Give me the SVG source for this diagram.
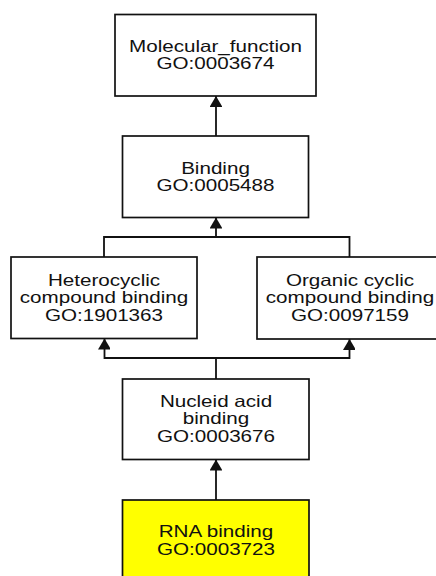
<svg xmlns="http://www.w3.org/2000/svg" width="436" height="576" viewBox="0 0 436 576">
  <style>
    .box { fill: #ffffff; stroke: #111111; stroke-width: 1.7; }
    .hl { fill: #ffff00; }
    .lbl { font-family: "Liberation Sans", Arial, sans-serif; font-size: 16.5px; fill: #111111; text-anchor: middle; }
    .edge { fill: none; stroke: #111111; stroke-width: 1.8; }
  </style>
  <defs>
    <marker id="arrow" markerUnits="userSpaceOnUse" markerWidth="14" markerHeight="12" refX="11" refY="6.5" orient="auto">
      <path d="M0,0 L11,6.5 L0,13 Z" fill="#111111"/>
    </marker>
  </defs>

  <rect width="436" height="576" fill="#ffffff"/>

  <!-- connectors (child points up to parent) -->
  <g id="connectors">
    <path class="edge" d="M216,136 V96" marker-end="url(#arrow)"/>
    <path class="edge" d="M104,257 V237 H216 V217.5" marker-end="url(#arrow)"/>
    <path class="edge" d="M349.5,257 V237 H216"/>
    <path class="edge" d="M216,379 V358 H104.5 V338.5" marker-end="url(#arrow)"/>
    <path class="edge" d="M216,358 H349.5 V339" marker-end="url(#arrow)"/>
    <path class="edge" d="M216,500 V459.5" marker-end="url(#arrow)"/>
  </g>

  <g id="molecular_function">
    <rect class="box" x="115" y="14.5" width="201" height="81.5"/>
    <g transform="translate(215.5,0) scale(1.25,1)">
      <text class="lbl" x="0" y="52">Molecular_function</text>
      <text class="lbl" x="0" y="69.5">GO:0003674</text>
    </g>
  </g>

  <g id="binding">
    <rect class="box" x="122.5" y="136" width="186" height="81.5"/>
    <g transform="translate(215.5,0) scale(1.25,1)">
      <text class="lbl" x="0" y="174">Binding</text>
      <text class="lbl" x="0" y="191.5">GO:0005488</text>
    </g>
  </g>

  <g id="heterocyclic_compound_binding">
    <rect class="box" x="11" y="257" width="186" height="81.5"/>
    <g transform="translate(104,0) scale(1.25,1)">
      <text class="lbl" x="0" y="286">Heterocyclic</text>
      <text class="lbl" x="0" y="303.5">compound binding</text>
      <text class="lbl" x="0" y="321">GO:1901363</text>
    </g>
  </g>

  <g id="organic_cyclic_compound_binding">
    <rect class="box" x="257" y="257" width="186" height="82"/>
    <g transform="translate(350,0) scale(1.25,1)">
      <text class="lbl" x="0" y="286">Organic cyclic</text>
      <text class="lbl" x="0" y="303.5">compound binding</text>
      <text class="lbl" x="0" y="321">GO:0097159</text>
    </g>
  </g>

  <g id="nucleic_acid_binding">
    <rect class="box" x="122.5" y="379" width="186.5" height="80.5"/>
    <g transform="translate(216,0) scale(1.25,1)">
      <text class="lbl" x="0" y="407">Nucleid acid</text>
      <text class="lbl" x="0" y="424.5">binding</text>
      <text class="lbl" x="0" y="442.5">GO:0003676</text>
    </g>
  </g>

  <g id="rna_binding">
    <rect class="box hl" x="122.5" y="500" width="186.5" height="82"/>
    <g transform="translate(216,0) scale(1.25,1)">
      <text class="lbl" x="0" y="537.5">RNA binding</text>
      <text class="lbl" x="0" y="555">GO:0003723</text>
    </g>
  </g>
</svg>
